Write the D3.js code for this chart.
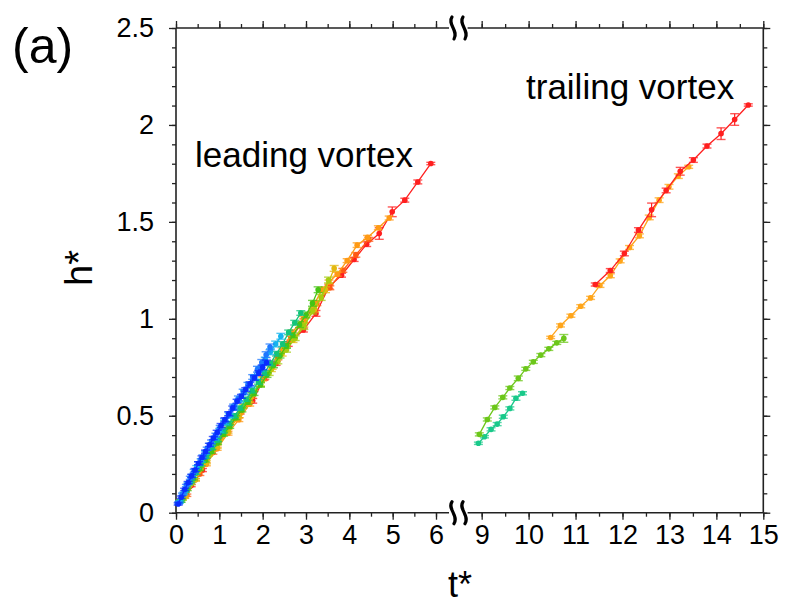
<!DOCTYPE html>
<html>
<head>
<meta charset="utf-8">
<script src="https://cdn.jsdelivr.net/npm/d3@7"></script>
<style>
body { margin: 0; background: #fff; }
text { font-family: "Liberation Sans", Arial, sans-serif; }
</style>
</head>
<body>
<script>
// ---- leading vortex (left part of the broken axis) ----
var redT = [0.1, 0.35, 0.61, 0.9, 1.18, 1.48, 1.77, 2.03, 2.31, 2.59, 2.94, 3.23, 3.53, 3.82, 4.11, 4.4, 4.69, 4.99, 5.28, 5.58, 5.88];
var redH = [0.06, 0.14, 0.22, 0.344, 0.426, 0.521, 0.577, 0.693, 0.77, 0.87, 0.942, 1.028, 1.165, 1.225, 1.306, 1.385, 1.44, 1.552, 1.612, 1.706, 1.801];
var redE = [0.006, 0.006, 0.008, 0.01, 0.01, 0.012, 0.012, 0.01, 0.01, 0.012, 0.01, 0.015, 0.01, 0.01, 0.01, 0.012, 0.03, 0.025, 0.01, 0.01, 0.006];

var orangeRedT = [0.25, 0.55, 0.85, 1.15, 1.45, 1.75, 2.05, 2.35, 2.65, 2.95, 3.25, 3.55, 3.85, 4.15, 4.45];
var orangeRedH = [0.09, 0.2, 0.31, 0.41, 0.5, 0.6, 0.7, 0.8, 0.9, 0.99, 1.08, 1.16, 1.25, 1.33, 1.41];
var orangeRedE = [0.006, 0.008, 0.008, 0.01, 0.01, 0.01, 0.012, 0.012, 0.01, 0.01, 0.012, 0.01, 0.01, 0.012, 0.01];

var orangeT = [0.2, 0.45, 0.7, 0.95, 1.2, 1.45, 1.7, 2.0, 2.22, 2.45, 2.68, 2.94, 3.2, 3.37, 3.53, 3.72, 3.95, 4.18, 4.42, 4.67, 4.92];
var orangeH = [0.08, 0.17, 0.25, 0.33, 0.41, 0.48, 0.56, 0.69, 0.75, 0.84, 0.93, 1.0, 1.08, 1.15, 1.19, 1.23, 1.3, 1.38, 1.42, 1.47, 1.52];
var orangeE = [0.006, 0.006, 0.008, 0.008, 0.01, 0.01, 0.01, 0.01, 0.01, 0.01, 0.012, 0.012, 0.01, 0.012, 0.01, 0.01, 0.01, 0.012, 0.01, 0.01, 0.01];

var goldT = [0.2, 0.45, 0.7, 0.95, 1.2, 1.45, 1.7, 1.95, 2.2, 2.45, 2.7, 2.95, 3.2, 3.45, 3.65];
var goldH = [0.08, 0.17, 0.26, 0.34, 0.42, 0.5, 0.58, 0.66, 0.74, 0.82, 0.89, 0.97, 1.05, 1.15, 1.26];
var goldE = [0.006, 0.006, 0.008, 0.008, 0.01, 0.01, 0.01, 0.01, 0.012, 0.012, 0.012, 0.012, 0.015, 0.015, 0.015];

var yellowGreenT = [0.15, 0.35, 0.55, 0.75, 0.95, 1.15, 1.35, 1.55, 1.75, 1.95, 2.15, 2.35, 2.55, 2.75, 2.95, 3.15, 3.35, 3.52];
var yellowGreenH = [0.07, 0.15, 0.23, 0.3, 0.365, 0.43, 0.49, 0.55, 0.61, 0.665, 0.72, 0.78, 0.84, 0.9, 0.96, 1.04, 1.11, 1.2];
var yellowGreenE = [0.006, 0.006, 0.008, 0.008, 0.008, 0.01, 0.01, 0.01, 0.01, 0.012, 0.012, 0.012, 0.012, 0.012, 0.015, 0.015, 0.015, 0.015];

var greenT = [0.12, 0.26, 0.4, 0.54, 0.68, 0.82, 0.96, 1.1, 1.24, 1.38, 1.52, 1.66, 1.8, 1.95, 2.1, 2.25, 2.4, 2.55, 2.7, 2.85, 3.0, 3.15, 3.28];
var greenH = [0.06, 0.12, 0.175, 0.225, 0.27, 0.315, 0.36, 0.405, 0.445, 0.49, 0.53, 0.57, 0.615, 0.66, 0.71, 0.76, 0.81, 0.86, 0.915, 0.97, 1.02, 1.08, 1.15];
var greenE = [0.006, 0.006, 0.006, 0.008, 0.008, 0.008, 0.008, 0.01, 0.01, 0.01, 0.01, 0.01, 0.01, 0.012, 0.012, 0.012, 0.012, 0.012, 0.012, 0.015, 0.015, 0.015, 0.015];

var tealT = [0.1, 0.22, 0.34, 0.46, 0.58, 0.7, 0.83, 0.96, 1.09, 1.22, 1.35, 1.48, 1.62, 1.76, 1.9, 2.04, 2.18, 2.32, 2.46, 2.6, 2.74, 2.88];
var tealH = [0.06, 0.11, 0.16, 0.205, 0.25, 0.29, 0.335, 0.375, 0.42, 0.46, 0.5, 0.54, 0.585, 0.63, 0.675, 0.72, 0.77, 0.82, 0.87, 0.93, 0.98, 1.03];
var tealE = [0.006, 0.006, 0.006, 0.008, 0.008, 0.008, 0.008, 0.01, 0.01, 0.01, 0.01, 0.01, 0.01, 0.012, 0.012, 0.012, 0.012, 0.012, 0.012, 0.012, 0.012, 0.012];

var cyanT = [0.08, 0.18, 0.28, 0.38, 0.48, 0.58, 0.68, 0.79, 0.9, 1.01, 1.12, 1.23, 1.34, 1.46, 1.58, 1.7, 1.82, 1.94, 2.06, 2.18, 2.3, 2.42];
var cyanH = [0.055, 0.1, 0.15, 0.19, 0.235, 0.27, 0.31, 0.35, 0.385, 0.425, 0.465, 0.5, 0.54, 0.58, 0.62, 0.66, 0.7, 0.74, 0.79, 0.83, 0.87, 0.91];
var cyanE = [0.006, 0.006, 0.006, 0.008, 0.008, 0.008, 0.008, 0.008, 0.01, 0.01, 0.01, 0.01, 0.01, 0.01, 0.012, 0.012, 0.012, 0.012, 0.012, 0.015, 0.015, 0.015];

var lightBlueT = [0.06, 0.15, 0.24, 0.33, 0.42, 0.52, 0.62, 0.72, 0.82, 0.92, 1.02, 1.12, 1.22, 1.33, 1.44, 1.55, 1.66, 1.77, 1.88, 1.98, 2.08, 2.17];
var lightBlueH = [0.05, 0.095, 0.14, 0.18, 0.215, 0.255, 0.29, 0.33, 0.365, 0.4, 0.44, 0.475, 0.51, 0.55, 0.59, 0.625, 0.66, 0.7, 0.74, 0.775, 0.815, 0.855];
var lightBlueE = [0.006, 0.006, 0.006, 0.008, 0.008, 0.008, 0.008, 0.008, 0.01, 0.01, 0.01, 0.01, 0.01, 0.01, 0.012, 0.012, 0.012, 0.012, 0.015, 0.015, 0.015, 0.015];

var blueT = [0.05, 0.12, 0.2, 0.28, 0.36, 0.44, 0.52, 0.6, 0.68, 0.77, 0.86, 0.95, 1.04, 1.13, 1.22, 1.31, 1.41, 1.51, 1.61, 1.71, 1.81, 1.91, 2.0, 2.09];
var blueH = [0.045, 0.08, 0.12, 0.155, 0.19, 0.22, 0.255, 0.285, 0.315, 0.35, 0.385, 0.415, 0.45, 0.48, 0.51, 0.54, 0.575, 0.6, 0.635, 0.665, 0.695, 0.72, 0.75, 0.775];
var blueE = [0.006, 0.006, 0.006, 0.006, 0.008, 0.008, 0.008, 0.008, 0.008, 0.008, 0.008, 0.01, 0.01, 0.01, 0.01, 0.01, 0.01, 0.01, 0.01, 0.01, 0.012, 0.012, 0.012, 0.012];

// ---- trailing vortex (right part of the broken axis) ----
var tRedT = [11.42, 11.74, 12.04, 12.34, 12.62, 12.93, 13.23, 13.51, 13.8, 14.1, 14.39, 14.68];
var tRedH = [1.177, 1.249, 1.337, 1.458, 1.562, 1.662, 1.761, 1.819, 1.891, 1.955, 2.028, 2.103];
var tRedE = [0.008, 0.01, 0.012, 0.012, 0.035, 0.012, 0.02, 0.012, 0.01, 0.03, 0.03, 0.006];

var tOrangeT = [10.47, 10.68, 10.9, 11.11, 11.32, 11.52, 11.74, 11.95, 12.15, 12.36, 12.57, 12.78, 12.99, 13.19, 13.41];
var tOrangeH = [0.904, 0.966, 1.016, 1.065, 1.108, 1.172, 1.222, 1.299, 1.368, 1.428, 1.523, 1.612, 1.681, 1.736, 1.784];
var tOrangeE = [0.006, 0.008, 0.008, 0.008, 0.008, 0.01, 0.01, 0.01, 0.01, 0.01, 0.012, 0.012, 0.012, 0.012, 0.008];

var tGreenT = [8.95, 9.12, 9.28, 9.45, 9.6, 9.78, 9.94, 10.1, 10.26, 10.43, 10.6, 10.75];
var tGreenH = [0.404, 0.481, 0.543, 0.595, 0.643, 0.693, 0.742, 0.778, 0.813, 0.845, 0.876, 0.899];
var tGreenE = [0.008, 0.008, 0.008, 0.008, 0.008, 0.012, 0.008, 0.008, 0.008, 0.008, 0.008, 0.02];

var tTealT = [8.93, 9.06, 9.2, 9.33, 9.46, 9.6, 9.73, 9.87];
var tTealH = [0.358, 0.392, 0.43, 0.457, 0.495, 0.538, 0.59, 0.616];
var tTealE = [0.006, 0.006, 0.008, 0.008, 0.008, 0.008, 0.01, 0.008];

// axis ticks
var leftMajor = [0, 1, 2, 3, 4, 5, 6];
var rightMajor = [9, 10, 11, 12, 13, 14, 15];
var yMajor = [0, 0.5, 1, 1.5, 2, 2.5];

var width = 786, height = 605;

var svg = d3.select("body").append("svg")
    .attr("width", width)
    .attr("height", height);

var xLeft = d3.scaleLinear().domain([0, 6.3]).range([176, 449]);
var xRight = d3.scaleLinear().domain([8.7, 15]).range([467.6, 763.3]);
var y = d3.scaleLinear().domain([0, 2.5]).range([512.7, 28]);

function build(t, h, e, color, side) {
    return { color: color, side: side, pts: t.map(function(d, i) { return { t: d, h: h[i], e: e[i] }; }) };
}

var series = [
    build(tTealT, tTealH, tTealE, "#19c98a", "r"),
    build(tGreenT, tGreenH, tGreenE, "#6cc71a", "r"),
    build(tOrangeT, tOrangeH, tOrangeE, "#ffa51a", "r"),
    build(tRedT, tRedH, tRedE, "#ff1f1f", "r"),
    build(redT, redH, redE, "#ff1f1f", "l"),
    build(orangeRedT, orangeRedH, orangeRedE, "#ff5a14", "l"),
    build(orangeT, orangeH, orangeE, "#ff9a14", "l"),
    build(goldT, goldH, goldE, "#e3b810", "l"),
    build(yellowGreenT, yellowGreenH, yellowGreenE, "#a6cc10", "l"),
    build(greenT, greenH, greenE, "#46c414", "l"),
    build(tealT, tealH, tealE, "#12c47a", "l"),
    build(cyanT, cyanH, cyanE, "#14b4ee", "l"),
    build(lightBlueT, lightBlueH, lightBlueE, "#1e78ff", "l"),
    build(blueT, blueH, blueE, "#0a2cff", "l")
];

// ---- axes ----
function addAxis(axis, tx, ty) {
    var g = svg.append("g").attr("transform", "translate(" + tx + "," + ty + ")").call(axis);
    g.select(".domain").remove();
    g.selectAll("line").attr("stroke", "#222").attr("stroke-width", 1.3);
    return g;
}
function halves(a, b) {
    var out = [];
    for (var v = a; v <= b + 1e-9; v += 0.5) out.push(v);
    return out;
}
function tenths() {
    var out = [];
    for (var i = 0; i <= 25; i++) out.push(i / 10);
    return out;
}

var yBot = y(0), yTop = y(2.5), xL = xLeft(0), xR = xRight(15);

[[xLeft, leftMajor, halves(0, 6)], [xRight, rightMajor, halves(9, 15)]].forEach(function(s) {
    // bottom
    addAxis(d3.axisBottom(s[0]).tickValues(s[2]).tickSize(4).tickFormat(""), 0, yBot);
    var gb = addAxis(d3.axisBottom(s[0]).tickValues(s[1]).tickSize(7).tickPadding(5).tickFormat(d3.format("d")), 0, yBot);
    gb.selectAll("text").attr("font-size", 27).attr("fill", "#000")
        .attr("font-family", "'Liberation Sans', Arial, sans-serif");
    // top
    addAxis(d3.axisTop(s[0]).tickValues(s[2]).tickSize(4).tickFormat(""), 0, yTop);
    addAxis(d3.axisTop(s[0]).tickValues(s[1]).tickSize(7).tickFormat(""), 0, yTop);
});

addAxis(d3.axisLeft(y).tickValues(tenths()).tickSize(4).tickFormat(""), xL, 0);
var gl = addAxis(d3.axisLeft(y).tickValues(yMajor).tickSize(7).tickPadding(15).tickFormat(d3.format("")), xL, 0);
gl.selectAll("text").attr("font-size", 27).attr("fill", "#000")
    .attr("font-family", "'Liberation Sans', Arial, sans-serif");
addAxis(d3.axisRight(y).tickValues(tenths()).tickSize(4).tickFormat(""), xR, 0);
addAxis(d3.axisRight(y).tickValues(yMajor).tickSize(7).tickFormat(""), xR, 0);

// frame lines (broken between the two x segments)
var frame = svg.append("g").attr("stroke", "#222").attr("stroke-width", 1.6).attr("fill", "none");
frame.append("line").attr("x1", xL).attr("x2", xL).attr("y1", yTop).attr("y2", yBot);
frame.append("line").attr("x1", xR).attr("x2", xR).attr("y1", yTop).attr("y2", yBot);
[yTop, yBot].forEach(function(yy) {
    frame.append("line").attr("x1", xL).attr("x2", xLeft(6.3)).attr("y1", yy).attr("y2", yy);
    frame.append("line").attr("x1", xRight(8.7)).attr("x2", xR).attr("y1", yy).attr("y2", yy);
    // break marks
    [453, 464].forEach(function(bx) {
        frame.append("path")
            .attr("d", "M" + (bx - 1) + "," + (yy - 11) + " C" + (bx - 6) + "," + (yy - 4) + " " + (bx + 6) + "," + (yy + 3) + " " + (bx + 1) + "," + (yy + 11))
            .attr("stroke", "#000").attr("stroke-width", 3.2).attr("stroke-linecap", "round");
    });
});

// ---- data ----
var plot = svg.append("g");
series.forEach(function(s) {
    var xs = s.side === "l" ? xLeft : xRight;
    var g = plot.append("g").attr("stroke", s.color).attr("fill", s.color);
    g.append("path")
        .datum(s.pts)
        .attr("fill", "none")
        .attr("stroke-width", 1.3)
        .attr("d", d3.line().x(function(d) { return xs(d.t); }).y(function(d) { return y(d.h); }));
    var p = g.selectAll(".pt").data(s.pts).enter().append("g").attr("class", "pt");
    p.append("line")
        .attr("x1", function(d) { return xs(d.t); }).attr("x2", function(d) { return xs(d.t); })
        .attr("y1", function(d) { return y(d.h - d.e); }).attr("y2", function(d) { return y(d.h + d.e); })
        .attr("stroke-width", 1.2);
    [1, -1].forEach(function(sg) {
        p.append("line")
            .attr("x1", function(d) { return xs(d.t) - 4.5; }).attr("x2", function(d) { return xs(d.t) + 4.5; })
            .attr("y1", function(d) { return y(d.h + sg * d.e); }).attr("y2", function(d) { return y(d.h + sg * d.e); })
            .attr("stroke-width", 1.4).attr("stroke-opacity", 0.75);
    });
    p.append("circle")
        .attr("cx", function(d) { return xs(d.t); })
        .attr("cy", function(d) { return y(d.h); })
        .attr("r", 2.8)
        .attr("stroke", "none");
});

// ---- labels ----
svg.append("text").attr("x", 12).attr("y", 63).attr("font-size", 50).text("(a)");
svg.append("text").attr("x", 195).attr("y", 167).attr("font-size", 35).text("leading vortex");
svg.append("text").attr("x", 526).attr("y", 99).attr("font-size", 35).text("trailing vortex");
svg.append("text").attr("x", 460).attr("y", 597).attr("text-anchor", "middle").attr("font-size", 36).text("t*");
svg.append("text")
    .attr("transform", "translate(92,268) rotate(-90)")
    .attr("text-anchor", "middle").attr("font-size", 38).text("h*");
</script>
</body>
</html>
